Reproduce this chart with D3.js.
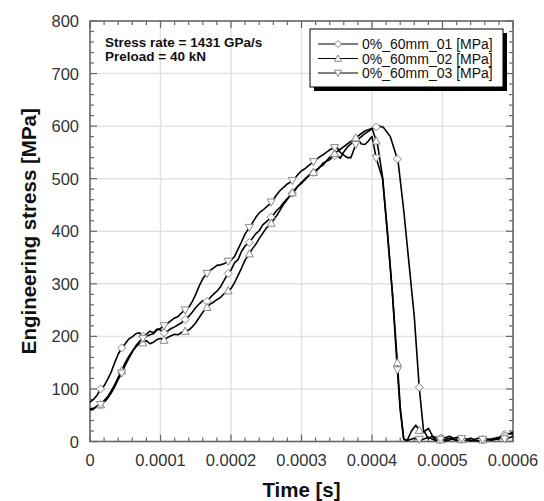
<!DOCTYPE html>
<html><head><meta charset="utf-8">
<script src="https://cdn.jsdelivr.net/npm/d3@7"></script>
<style>body{margin:0;background:#fff}svg{display:block}</style>
</head><body>
<script>
// ---- data ----
const xTicks = [0, 0.0001, 0.0002, 0.0003, 0.0004, 0.0005, 0.0006];
const xTickLabels = ["0", "0.0001", "0.0002", "0.0003", "0.0004", "0.0005", "0.0006"];
const yTicks = [0, 100, 200, 300, 400, 500, 600, 700, 800];
const seriesNames = ["0%_60mm_01 [MPa]", "0%_60mm_02 [MPa]", "0%_60mm_03 [MPa]"];
const markerTypes = ["diamond", "up", "down"];
// time in units of 1e-5 s, stress in MPa
const s1t = [0,0.5,1,1.5,2,2.5,3,3.5,4,4.5,5,5.5,6,6.5,7,7.5,8,8.5,9,9.5,10,10.5,11,11.5,12,12.5,13,13.5,14,14.5,15,15.5,16,16.5,17,17.5,18,18.5,19,19.5,20,20.5,21,21.5,22,22.5,23,23.5,24,24.5,25,25.5,26,26.5,27,27.5,28,28.5,29,29.5,30,30.5,31,31.5,32,32.5,33,33.5,34,34.5,35,35.5,36,36.5,37,37.5,38,38.5,39,39.5,40,40.5,41,41.6,42.6,43.7,44.5,45.2,46,46.7,47.3,48,48.5,49,49.5,50,51,52,53,54,55,56,57,58,59,60];
const s1v = [75,80,88,100,106,118,132,150,166,178,186,195,199,205,207,200,204,210,207,214,212,207,210,215,218,222,226,232,238,246,255,262,268,265,273,280,286,294,306,318,326,340,346,362,372,377,386,395,401,412,418,424,431,440,446,455,462,470,476,486,491,500,505,511,512,522,525,533,536,543,545,539,551,560,566,572,575,580,586,590,595,598,600,598,580,533,440,345,237,103,22,5,10,4,8,3,6,2,5,1,6,3,5,8,15,14];
const s2t = [0,0.5,1,1.5,2,2.5,3,3.5,4,4.5,5,5.5,6,6.5,7,7.5,8,8.5,9,9.5,10,10.5,11,11.5,12,12.5,13,13.5,14,14.5,15,15.5,16,16.5,17,17.5,18,18.5,19,19.5,20,20.5,21,21.5,22,22.5,23,23.5,24,24.5,25,25.5,26,26.5,27,27.5,28,28.5,29,29.5,30,30.5,31,31.5,32,32.5,33,33.5,34,34.5,35,35.5,36,36.5,37,37.5,38,38.5,39,39.5,40,40.8,41.5,42.2,42.9,43.6,44,44.5,45,45.6,46.2,47,47.5,48,48.6,49.5,50,51,52,53,54,55,56,57,58,59,60];
const s2v = [62,63,66,70,78,85,96,108,122,135,150,162,172,180,186,188,192,186,189,194,196,193,198,201,204,203,208,210,212,218,226,236,246,254,261,265,270,274,281,286,291,302,316,330,345,355,366,375,386,396,406,412,421,430,441,452,461,470,479,486,493,498,506,510,516,520,529,533,541,546,551,556,561,566,571,576,581,586,591,593,596,564,503,397,282,150,66,5,2,20,31,16,20,25,10,5,0,3,8,2,6,1,4,3,5,12,18];
const s3t = [0,0.5,1,1.5,2,2.5,3,3.5,4,4.5,5,5.5,6,6.5,7,7.5,8,8.5,9,9.5,10,10.5,11,11.5,12,12.5,13,13.5,14,14.5,15,15.5,16,16.5,17,17.5,18,18.5,19,19.5,20,20.5,21,21.5,22,22.5,23,23.5,24,24.5,25,25.5,26,26.5,27,27.5,28,28.5,29,29.5,30,30.5,31,31.5,32,32.5,33,33.5,34,34.5,35,35.5,36,36.5,37,37.5,38,38.5,39,39.5,40,40.6,41.5,42.2,42.9,43.6,44,44.5,45,46,47,48,49,50,51,52,53,54,55,56,57,58,59,60];
const s3v = [60,62,68,70,75,82,92,104,118,130,145,158,170,182,190,196,200,203,205,212,215,220,225,230,235,238,245,250,255,266,280,296,310,318,325,330,335,336,338,342,345,352,366,380,395,405,415,426,435,440,446,452,460,470,478,484,490,494,500,508,515,519,525,530,535,541,545,550,555,558,560,550,545,540,540,558,575,566,565,572,580,539,500,394,280,136,60,4,2,6,3,8,2,5,10,3,6,2,1,5,3,7,4,10];
const markerTimes = [1.5,4.5,7.5,10.5,13.5,16.6,19.6,22.6,25.7,28.7,31.7,34.7,37.7,40.6,43.6,46.7,49.7,52.7,55.7,58.8];

const seriesT = [s1t, s2t, s3t];
const seriesV = [s1v, s2v, s3v];

// ---- layout ----
const W = 544, H = 501;
const L = 90, R = 513, T = 21, B = 441.5;
const svg = d3.select("body").append("svg").attr("width", W).attr("height", H);
const x = d3.scaleLinear().domain([0, 0.0006]).range([L, R]);
const y = d3.scaleLinear().domain([0, 800]).range([B, T]);
const font = "'Liberation Sans', Arial, sans-serif";

// grid
svg.append("g").selectAll("line").data(xTicks.slice(1, -1)).join("line")
  .attr("x1", d => x(d)).attr("x2", d => x(d)).attr("y1", T).attr("y2", B)
  .attr("stroke", "#e2e2e2").attr("stroke-width", 1.5);
svg.append("g").selectAll("line").data(yTicks.slice(1, -1)).join("line")
  .attr("y1", d => y(d)).attr("y2", d => y(d)).attr("x1", L).attr("x2", R)
  .attr("stroke", "#e2e2e2").attr("stroke-width", 1.5);

// ticks (inside, all 4 sides)
const frameCol = "#666";
const xMinor = d3.range(0, 31).map(i => i * 0.00002);
const yMinor = d3.range(0, 41).map(i => i * 20);
const tg = svg.append("g").attr("stroke", frameCol).attr("stroke-width", 1.2);
xMinor.forEach((t, i) => {
  const len = (i % 5 === 0) ? 7 : 4;
  tg.append("line").attr("x1", x(t)).attr("x2", x(t)).attr("y1", B).attr("y2", B - len);
  tg.append("line").attr("x1", x(t)).attr("x2", x(t)).attr("y1", T).attr("y2", T + len);
});
yMinor.forEach((v, i) => {
  const len = (i % 5 === 0) ? 7 : 4;
  tg.append("line").attr("y1", y(v)).attr("y2", y(v)).attr("x1", L).attr("x2", L + len);
  tg.append("line").attr("y1", y(v)).attr("y2", y(v)).attr("x1", R).attr("x2", R - len);
});
svg.append("rect").attr("x", L).attr("y", T).attr("width", R - L).attr("height", B - T)
  .attr("fill", "none").attr("stroke", frameCol).attr("stroke-width", 1.6);

// tick labels
svg.append("g").selectAll("text").data(xTicks).join("text")
  .attr("x", d => x(d)).attr("y", 466).attr("text-anchor", "middle")
  .attr("font-family", font).attr("font-size", 16.5).attr("fill", "#333")
  .text((d, i) => xTickLabels[i]);
svg.append("g").selectAll("text").data(yTicks).join("text")
  .attr("x", 79).attr("y", d => y(d) + 6).attr("text-anchor", "end")
  .attr("font-family", font).attr("font-size", 16.5).attr("fill", "#333")
  .text(d => d);

// axis titles
svg.append("text").attr("x", (L + R) / 2).attr("y", 497).attr("text-anchor", "middle")
  .attr("font-family", font).attr("font-size", 20.5).attr("font-weight", "bold").attr("fill", "#111")
  .text("Time [s]");
svg.append("text").attr("transform", `translate(36,${(T + B) / 2}) rotate(-90)`)
  .attr("text-anchor", "middle")
  .attr("font-family", font).attr("font-size", 20.5).attr("font-weight", "bold").attr("fill", "#111")
  .text("Engineering stress [MPa]");

// lines
const line = d3.line().x(d => x(d[0] * 1e-5)).y(d => y(d[1]));
const plot = svg.append("g");
seriesT.forEach((ts, k) => {
  const pts = ts.map((t, i) => [t, seriesV[k][i]]);
  plot.append("path").datum(pts).attr("d", line).attr("fill", "none")
    .attr("stroke", "#000").attr("stroke-width", 1.6).attr("stroke-linejoin", "round");
});

function markerPath(type, s) {
  if (type === "diamond") return `M0,${-s}L${s},0L0,${s}L${-s},0Z`;
  if (type === "up") return `M0,${-s}L${s},${s * 0.8}L${-s},${s * 0.8}Z`;
  return `M0,${s}L${s},${-s * 0.8}L${-s},${-s * 0.8}Z`;
}
function interp(ts, vs, t) {
  for (let i = 1; i < ts.length; i++) {
    if (t <= ts[i]) {
      const f = (t - ts[i - 1]) / (ts[i] - ts[i - 1]);
      return vs[i - 1] + f * (vs[i] - vs[i - 1]);
    }
  }
  return vs[vs.length - 1];
}
seriesT.forEach((ts, k) => {
  plot.append("g").selectAll("path").data(markerTimes).join("path")
    .attr("transform", t => `translate(${x(t * 1e-5)},${y(interp(ts, seriesV[k], t))})`)
    .attr("d", markerPath(markerTypes[k], 4))
    .attr("fill", "#fff").attr("stroke", "#888").attr("stroke-width", 1);
});

// annotation
svg.append("text").attr("x", 105).attr("y", 47).attr("font-family", font)
  .attr("font-size", 13.5).attr("font-weight", "bold").attr("fill", "#111").text("Stress rate = 1431 GPa/s");
svg.append("text").attr("x", 105).attr("y", 61).attr("font-family", font)
  .attr("font-size", 13.5).attr("font-weight", "bold").attr("fill", "#111").text("Preload = 40 kN");

// legend
const lg = svg.append("g");
lg.append("rect").attr("x", 314).attr("y", 33).attr("width", 193).attr("height", 58).attr("fill", "#000");
lg.append("rect").attr("x", 310).attr("y", 29).attr("width", 193).attr("height", 58)
  .attr("fill", "#fff").attr("stroke", "#000").attr("stroke-width", 1);
seriesNames.forEach((n, k) => {
  const cy = 44 + k * 14.5;
  lg.append("line").attr("x1", 318).attr("x2", 358).attr("y1", cy).attr("y2", cy)
    .attr("stroke", "#000").attr("stroke-width", 1.2);
  lg.append("path").attr("transform", `translate(338,${cy})`).attr("d", markerPath(markerTypes[k], 3.5))
    .attr("fill", "#fff").attr("stroke", "#888").attr("stroke-width", 1);
  lg.append("text").attr("x", 362).attr("y", cy + 5).attr("font-family", font)
    .attr("font-size", 14).attr("fill", "#111").text(n);
});
</script>
</body></html>
